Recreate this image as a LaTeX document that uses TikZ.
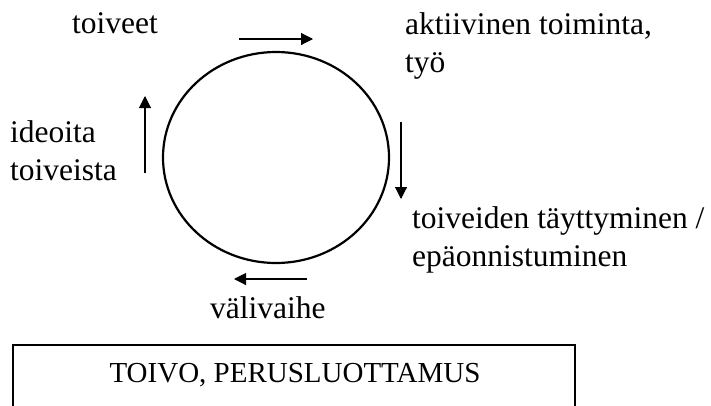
\documentclass[tikz,border=0pt]{standalone}
\usepackage{fontspec}
\setmainfont{Liberation Serif}
\usetikzlibrary{shapes.geometric,arrows.meta}
\begin{document}
\begin{tikzpicture}[x=1pt,y=-1pt,
  lbl/.style={inner sep=0pt,anchor=base west,align=left,font=\fontsize{31.5}{38}\selectfont},
  flow/.style={line width=1.1pt,-{Triangle[length=12pt,width=12pt]}},
  cycle/.style={draw,ellipse,line width=2.2pt,inner sep=0pt,minimum width=226pt,minimum height=211pt}]
\useasboundingbox (0,0) rectangle (711,405);
\clip (0,0) rectangle (711,405);
\node[cycle] (cyc) at (276,157.5) {};
\node[lbl] (t1) at (72,33) {toiveet};
\node[lbl] (t2) at (405,72) {aktiivinen toiminta,\\työ};
\node[lbl] (t3) at (10,180) {ideoita\\toiveista};
\node[lbl] (t4) at (412,266) {toiveiden täyttyminen /\\epäonnistuminen};
\node[lbl] (t5) at (210,318) {välivaihe};
\node[draw,line width=2pt,inner sep=0pt,minimum width=562pt,minimum height=80pt,anchor=north west] (box) at (12,344) {};
\node[inner sep=0pt,anchor=base,font=\fontsize{29}{33}\selectfont] (boxt) at (295,382) {TOIVO, PERUSLUOTTAMUS};
\coordinate (a1s) at (239,39); \coordinate (a1e) at (313,39);
\coordinate (a2s) at (401,122); \coordinate (a2e) at (401,199);
\coordinate (a3s) at (307,279); \coordinate (a3e) at (234,279);
\coordinate (a4s) at (145,173); \coordinate (a4e) at (145,96);
\draw[flow] (a1s) -- (a1e);
\draw[flow] (a2s) -- (a2e);
\draw[flow] (a3s) -- (a3e);
\draw[flow] (a4s) -- (a4e);
\end{tikzpicture}
\end{document}
